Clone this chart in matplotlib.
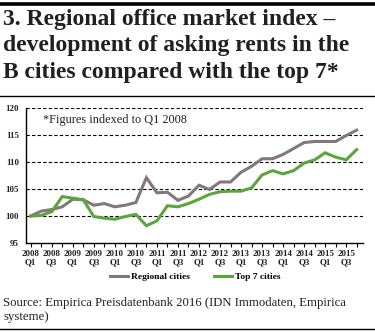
import matplotlib.pyplot as plt
import numpy as np
from matplotlib.lines import Line2D

# quarterly index, Q1 2008 = 100
quarters = ['2008 Q1', '2008 Q2', '2008 Q3', '2008 Q4',
            '2009 Q1', '2009 Q2', '2009 Q3', '2009 Q4',
            '2010 Q1', '2010 Q2', '2010 Q3', '2010 Q4',
            '2011 Q1', '2011 Q2', '2011 Q3', '2011 Q4',
            '2012 Q1', '2012 Q2', '2012 Q3', '2012 Q4',
            '2013 Q1', '2013 Q2', '2013 Q3', '2013 Q4',
            '2014 Q1', '2014 Q2', '2014 Q3', '2014 Q4',
            '2015 Q1', '2015 Q2', '2015 Q3', '2015 Q4']
regional = [100.0, 100.9, 101.2, 101.7, 103.1, 103.0, 102.0, 102.3,
            101.7, 102.0, 102.5, 107.1, 104.3, 104.4, 102.9, 103.7,
            105.7, 104.9, 106.3, 106.3, 108.1, 109.2, 110.6, 110.6,
            111.4, 112.5, 113.6, 113.8, 113.8, 113.8, 114.9, 115.9]
top7 = [100.0, 100.1, 100.8, 103.6, 103.3, 103.0, 99.9, 99.6,
        99.4, 99.9, 100.3, 98.2, 99.1, 101.9, 101.7, 102.3,
        103.1, 104.0, 104.5, 104.6, 104.6, 105.2, 107.6, 108.4,
        107.8, 108.4, 109.8, 110.4, 111.7, 110.9, 110.4, 112.3]
tick_labels = [q.replace(' ', '\n') for q in quarters[::2]]

grey = '#82777a'
green = '#5aa63c'
serif = 'Liberation Serif'

fig = plt.figure(figsize=(3.75, 3.33), dpi=100)
W, H = 375, 333

# rules and title
fig.add_artist(Line2D([0, 1], [1 - 3.5 / H, 1 - 3.5 / H], color='black', lw=2.6))
fig.add_artist(Line2D([0, 1], [1 - 96 / H, 1 - 96 / H], color='black', lw=1.0))
fig.add_artist(Line2D([0, 1], [1 - 329 / H, 1 - 329 / H], color='black', lw=1.0))
title = '3. Regional office market index –\ndevelopment of asking rents in the\nB cities compared with the top 7*'
fig.text(3 / W, 1 - 9 / H, title, ha='left', va='top', fontsize=17,
         family=serif, fontweight='bold', color='#231f20', linespacing=1.33)

ax = fig.add_axes([26 / W, 1 - 243 / H, (363 - 26) / W, (243 - 108) / H])
x = np.arange(len(quarters))
ax.plot(x, regional, color=grey, lw=2.2, solid_joinstyle='miter')
ax.plot(x, top7, color=green, lw=2.2, solid_joinstyle='miter')

ax.set_ylim(95, 120)
ax.set_xlim(-0.45, 31.6)
ax.set_yticks([95, 100, 105, 110, 115, 120])
ax.set_xticks(x[::2])
ax.set_xticklabels(tick_labels)
ax.set_xticks(x, minor=True)
for v in [100, 105, 110, 115, 120]:
    ax.axhline(v, color='black', lw=0.8, ls=(0, (3, 2)), zorder=0)

for s in ['top', 'right']:
    ax.spines[s].set_visible(False)
for s in ['left', 'bottom']:
    ax.spines[s].set_linewidth(1.0)
ax.tick_params(axis='x', which='both', length=3, width=0.8, pad=2)
ax.tick_params(axis='y', length=0, pad=5)
for lab in ax.get_xticklabels() + ax.get_yticklabels():
    lab.set_family(serif)
    lab.set_fontweight('bold')
    lab.set_fontsize(6.4)
    lab.set_color('#231f20')
for lab in ax.get_xticklabels():
    lab.set_linespacing(1.0)

ax.text(17 / (363 - 26), 0.955, '*Figures indexed to Q1 2008', transform=ax.transAxes,
        ha='left', va='top', fontsize=8.8, family=serif, color='#231f20')

handles = [Line2D([], [], color=grey, lw=2.2), Line2D([], [], color=green, lw=2.2)]
fig.legend(handles, ['Regional cities', 'Top 7 cities'], loc='center',
           bbox_to_anchor=(195 / W, 1 - 277 / H), ncol=2, frameon=False,
           prop={'family': serif, 'weight': 'bold', 'size': 6.8},
           handlelength=1.9, handletextpad=0.3, columnspacing=2.6)

fig.text(3 / W, 1 - 297 / H, 'Source: Empirica Preisdatenbank 2016 (IDN Immodaten, Empirica\nsysteme)',
         ha='left', va='top', fontsize=9.2, family=serif, color='#231f20', linespacing=1.2)

fig.savefig('out.png', dpi=100)
